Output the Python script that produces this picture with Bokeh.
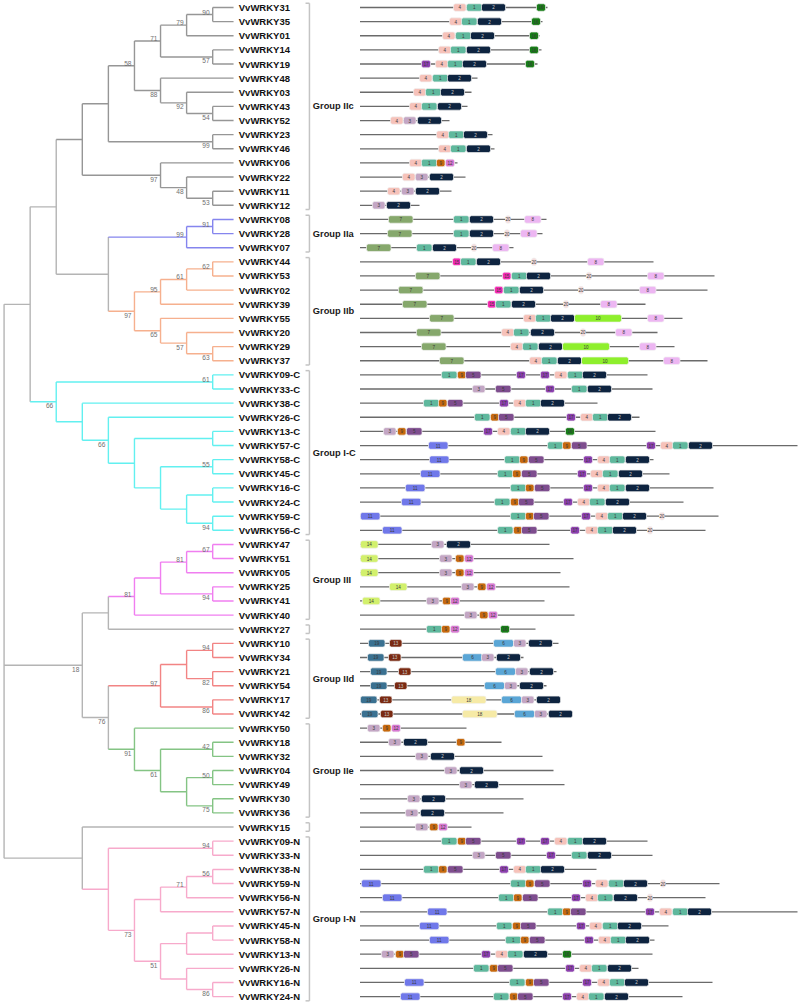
from bokeh.plotting import figure
from bokeh.models import Range1d, ColumnDataSource, Rect
from bokeh.core.properties import value
from bokeh.embed import file_html
from bokeh.resources import INLINE

# ---------------- tree (topology + bootstrap values) ----------------
IIC = "((((((VvWRKY31,VvWRKY35)90,VvWRKY01)79,(VvWRKY14,VvWRKY19)57)71,(VvWRKY48,(VvWRKY03,(VvWRKY43,VvWRKY52)54)92)88)58,(VvWRKY23,VvWRKY46)99),(VvWRKY06,(VvWRKY22,(VvWRKY11,VvWRKY12)53)48)97)"
IIA = "((VvWRKY08,VvWRKY28)91,VvWRKY07)99"
IIB = "((((VvWRKY44,VvWRKY53)62,VvWRKY02)61,VvWRKY39)95,(VvWRKY55,(VvWRKY20,(VvWRKY29,VvWRKY37)63)57)65)97"
IC = "((VvWRKY09-C,VvWRKY33-C)61,(VvWRKY38-C,(VvWRKY26-C,((VvWRKY13-C,VvWRKY57-C),((VvWRKY58-C,VvWRKY45-C)55,((VvWRKY16-C,VvWRKY24-C),(VvWRKY59-C,VvWRKY56-C)94))))66))66"
III = "((((VvWRKY47,VvWRKY51)67,VvWRKY05)81,(VvWRKY25,VvWRKY41)94),VvWRKY40)81"
IID = "(((VvWRKY10,VvWRKY34)94,(VvWRKY21,VvWRKY54)82),(VvWRKY17,VvWRKY42)86)97"
IIE = "(VvWRKY50,((VvWRKY18,VvWRKY32)42,((VvWRKY04,VvWRKY49)50,(VvWRKY30,VvWRKY36)75))61)91"
IN = "((VvWRKY09-N,VvWRKY33-N)94,((((VvWRKY38-N,VvWRKY59-N)56,VvWRKY56-N)71,VvWRKY57-N),(((VvWRKY45-N,VvWRKY58-N),VvWRKY13-N),(VvWRKY26-N,(VvWRKY16-N,VvWRKY24-N)86))51)73)"
NEWICK = ("(((" + IIC + ",(" + IIA + "," + IIB + "))," + IC + "),((" + III + ",VvWRKY27),(" +
          IID + "," + IIE + ")76)18,(VvWRKY15," + IN + "));")

# ---------------- groups ----------------
GROUP_NAMES = ["Group IIc", "Group IIa", "Group IIb", "Group I-C", "Group III", "",
               "Group IId", "Group IIe", "", "Group I-N"]
GROUP_SIZES = [15, 3, 8, 12, 6, 1, 6, 7, 1, 12]
GROUP_COLORS = ["#969696", "#8585ee", "#f6b08e", "#62f0f0", "#f07ef0", "#b4b4b4",
                "#f28484", "#84c484", "#b4b4b4", "#f7aacb"]
BACKBONE = "#b4b4b4"

# ---------------- proteins & motifs (lengths / positions in aa) ----------------
GENES = ["VvWRKY31", "VvWRKY35", "VvWRKY01", "VvWRKY14", "VvWRKY19", "VvWRKY48", "VvWRKY03",
         "VvWRKY43", "VvWRKY52", "VvWRKY23", "VvWRKY46", "VvWRKY06", "VvWRKY22", "VvWRKY11",
         "VvWRKY12", "VvWRKY08", "VvWRKY28", "VvWRKY07", "VvWRKY44", "VvWRKY53", "VvWRKY02",
         "VvWRKY39", "VvWRKY55", "VvWRKY20", "VvWRKY29", "VvWRKY37", "VvWRKY09-C", "VvWRKY33-C",
         "VvWRKY38-C", "VvWRKY26-C", "VvWRKY13-C", "VvWRKY57-C", "VvWRKY58-C", "VvWRKY45-C",
         "VvWRKY16-C", "VvWRKY24-C", "VvWRKY59-C", "VvWRKY56-C", "VvWRKY47", "VvWRKY51",
         "VvWRKY05", "VvWRKY25", "VvWRKY41", "VvWRKY40", "VvWRKY27", "VvWRKY10", "VvWRKY34",
         "VvWRKY21", "VvWRKY54", "VvWRKY17", "VvWRKY42", "VvWRKY50", "VvWRKY18", "VvWRKY32",
         "VvWRKY04", "VvWRKY49", "VvWRKY30", "VvWRKY36", "VvWRKY15", "VvWRKY09-N", "VvWRKY33-N",
         "VvWRKY38-N", "VvWRKY59-N", "VvWRKY56-N", "VvWRKY57-N", "VvWRKY45-N", "VvWRKY58-N",
         "VvWRKY13-N", "VvWRKY26-N", "VvWRKY16-N", "VvWRKY24-N"]

LENGTHS = [375, 365, 359, 363, 355, 235, 223, 215, 179, 265, 269, 195, 211, 183, 119,
           373, 365, 307,
           587, 709, 695, 571, 645, 595, 629, 695,
           575, 585, 475, 559, 591, 875, 587, 619, 707, 647, 717, 691,
           379, 427, 401, 419, 369, 429,
           351,
           397, 327, 393, 373, 401, 425,
           213, 283, 365, 387, 409, 327, 287,
           223,
           575, 585, 473, 719, 691, 875, 617, 589, 585, 557, 705, 645]

MOTIF_IDS = [
    [4, 1, 2, 16], [4, 1, 2, 16], [4, 1, 2, 16], [4, 1, 2, 16], [17, 4, 1, 2, 16],
    [4, 1, 2], [4, 1, 2], [4, 1, 2], [4, 3, 2], [4, 1, 2], [4, 1, 2], [4, 1, 9, 12],
    [4, 3, 2], [4, 3, 2], [3, 2],
    [7, 1, 2, 20, 8], [7, 1, 2, 20, 8], [7, 1, 2, 20, 8],
    [15, 1, 2, 20, 8], [7, 15, 1, 2, 20, 8], [7, 15, 1, 2, 20, 8], [7, 15, 1, 2, 20, 8],
    [7, 4, 1, 2, 10, 8], [7, 4, 1, 2, 20, 8], [7, 4, 1, 2, 10, 8], [7, 4, 1, 2, 10, 8],
    [1, 9, 5, 17, 17, 4, 1, 2], [3, 5, 17, 1, 2], [1, 9, 5, 17, 4, 1, 2], [1, 9, 5, 17, 4, 1, 2],
    [3, 9, 5, 17, 4, 1, 2, 16], [11, 1, 9, 5, 17, 4, 1, 2], [11, 1, 9, 5, 17, 4, 1, 2],
    [11, 1, 9, 5, 17, 4, 1, 2], [11, 1, 9, 5, 17, 4, 1, 2], [11, 1, 9, 5, 17, 4, 1, 2],
    [11, 1, 9, 5, 17, 4, 1, 2, 20], [11, 1, 9, 5, 17, 4, 1, 2, 20],
    [14, 3, 2], [14, 3, 9, 12], [14, 3, 9, 12], [14, 3, 9, 12], [14, 3, 9, 12], [3, 9, 12],
    [1, 9, 12, 16],
    [19, 13, 6, 3, 2], [19, 13, 6, 3, 2], [19, 13, 6, 3, 2], [19, 13, 6, 3, 2],
    [19, 13, 18, 6, 3, 2], [19, 13, 18, 6, 3, 2],
    [3, 9, 12], [3, 2, 9], [3, 2], [3, 2], [3, 2], [3, 2], [3, 2],
    [3, 9, 12],
    [1, 9, 5, 17, 17, 4, 1, 2], [3, 5, 17, 1, 2], [1, 9, 5, 17, 4, 1, 2],
    [11, 1, 9, 5, 17, 4, 1, 2, 20], [11, 1, 9, 5, 17, 4, 1, 2, 20], [11, 1, 9, 5, 17, 4, 1, 2],
    [11, 1, 9, 5, 17, 4, 1, 2], [11, 1, 9, 5, 17, 4, 1, 2], [3, 9, 5, 17, 4, 1, 2, 16],
    [1, 9, 5, 17, 4, 1, 2], [11, 1, 9, 5, 17, 4, 1, 2], [11, 1, 9, 5, 17, 4, 1, 2],
]

MOTIF_STARTS = [
    [187, 213, 243, 353], [179, 203, 235, 343], [165, 191, 221, 339], [157, 181, 213, 339],
    [123, 151, 175, 205, 331],
    [119, 145, 175], [107, 131, 161], [99, 123, 155], [61, 87, 115], [153, 177, 207],
    [157, 181, 213], [99, 123, 153, 171], [85, 111, 139], [55, 83, 111], [25, 53],
    [57, 187, 219, 291, 329], [55, 187, 219, 289, 321], [13, 113, 145, 223, 265],
    [185, 201, 233, 343, 455], [111, 285, 303, 333, 453, 575], [77, 269, 287, 319, 437, 559],
    [85, 255, 271, 303, 407, 481],
    [139, 327, 351, 381, 429, 575], [113, 283, 307, 341, 441, 511],
    [123, 301, 325, 357, 405, 559], [159, 339, 363, 395, 443, 607],
    [163, 195, 211, 313, 361, 389, 415, 445], [225, 271, 371, 423, 455],
    [127, 157, 175, 279, 307, 331, 361], [229, 261, 277, 413, 441, 465, 495],
    [47, 75, 93, 247, 275, 301, 331, 411], [137, 375, 405, 423, 573, 601, 625, 657],
    [139, 289, 319, 337, 447, 475, 499, 531], [121, 275, 305, 323, 435, 461, 485, 517],
    [91, 301, 331, 349, 447, 475, 499, 531], [83, 269, 301, 317, 407, 435, 459, 491],
    [1, 301, 331, 347, 443, 471, 495, 525, 599], [45, 275, 307, 323, 421, 451, 475, 505, 575],
    [1, 143, 173], [1, 159, 191, 209], [1, 159, 191, 209], [59, 203, 235, 253],
    [5, 133, 165, 181], [209, 239, 257],
    [133, 163, 181, 281],
    [17, 59, 267, 307, 337], [15, 57, 205, 243, 273], [21, 77, 271, 311, 339],
    [21, 69, 249, 289, 319], [1, 39, 183, 283, 323, 353], [3, 41, 205, 309, 349, 377],
    [15, 45, 63], [57, 87, 193], [111, 141], [169, 199], [199, 229], [95, 123], [91, 121],
    [111, 139, 157],
    [163, 195, 211, 313, 361, 389, 415, 445], [225, 271, 373, 423, 455],
    [127, 157, 175, 279, 307, 331, 361],
    [3, 301, 331, 349, 445, 471, 497, 527, 601], [45, 277, 307, 325, 423, 451, 475, 507, 575],
    [135, 375, 405, 421, 571, 599, 625, 655], [119, 273, 305, 321, 433, 459, 485, 515],
    [139, 291, 321, 339, 449, 477, 501, 531], [43, 71, 87, 243, 271, 295, 327, 405],
    [227, 259, 275, 411, 439, 463, 495], [89, 299, 331, 347, 445, 475, 499, 529],
    [81, 267, 299, 315, 405, 433, 457, 489],
]

MOTIF_LEN = {1: 31, 2: 48, 3: 25, 4: 25, 5: 31, 6: 40, 7: 49, 8: 33, 9: 17, 10: 94,
             11: 39, 12: 18, 13: 25, 14: 35, 15: 17, 16: 18, 17: 18, 18: 69, 19: 33, 20: 10}
MOTIF_COLOR = {1: "#5fb89d", 2: "#0e2440", 3: "#c3a6c4", 4: "#f6c2ba", 5: "#7e4d8e",
               6: "#5aa6d6", 7: "#86a86c", 8: "#edb6f2", 9: "#c7690d", 10: "#8eef2c",
               11: "#7078ea", 12: "#d878d2", 13: "#7a2a12", 14: "#d2f06c", 15: "#f22ab4",
               16: "#177d17", 17: "#8c3fae", 18: "#f6eaa6", 19: "#3a7191", 20: "#f5dede"}


# ---------------- parse tree ----------------
def parse(s):
    pos = 0

    def read_label():
        nonlocal pos
        st = pos
        while pos < len(s) and s[pos] not in ",();":
            pos += 1
        return s[st:pos]

    def node():
        nonlocal pos
        if s[pos] == "(":
            pos += 1
            kids = [node()]
            while s[pos] == ",":
                pos += 1
                kids.append(node())
            pos += 1
            return {"children": kids, "label": read_label()}
        return {"children": [], "name": read_label()}

    return node()


root = parse(NEWICK)

group_of = {}
k = 0
for gi, n in enumerate(GROUP_SIZES):
    for j in range(n):
        group_of[GENES[k]] = gi
        k += 1

leaf_order = []
TIP = 0.2  # gap between leaf tip and label (in branch-step units)


def layout(nd):
    if not nd["children"]:
        nd["y"] = GENES.index(nd["name"])
        leaf_order.append(nd["name"])
        nd["h"] = 0
        nd["groups"] = {group_of[nd["name"]]}
        return
    for c in nd["children"]:
        layout(c)
    nd["h"] = 1 + max(c["h"] for c in nd["children"])
    nd["y"] = (nd["children"][0]["y"] + nd["children"][-1]["y"]) / 2
    nd["groups"] = set().union(*[c["groups"] for c in nd["children"]])


layout(root)
assert leaf_order == GENES


def color_of(nd):
    if len(nd["groups"]) == 1:
        return GROUP_COLORS[next(iter(nd["groups"]))]
    return BACKBONE


seg = dict(x0=[], y0=[], x1=[], y1=[], c=[])
boot = dict(x=[], y=[], t=[])
boot_below = dict(x=[], y=[], t=[])


def xh(nd):
    return nd["h"] if nd["children"] else TIP


def walk(nd):
    if not nd["children"]:
        return
    col = color_of(nd)
    seg["x0"].append(nd["h"]); seg["x1"].append(nd["h"])
    seg["y0"].append(nd["children"][0]["y"]); seg["y1"].append(nd["children"][-1]["y"])
    seg["c"].append(col)
    for i, c in enumerate(nd["children"]):
        seg["x0"].append(nd["h"]); seg["x1"].append(xh(c))
        seg["y0"].append(c["y"]); seg["y1"].append(c["y"])
        seg["c"].append(color_of(c))
        if c["children"] and c["label"]:
            tgt = boot if i == 0 else boot_below
            tgt["x"].append(c["h"]); tgt["y"].append(c["y"]); tgt["t"].append(c["label"])
        walk(c)


walk(root)

# ---------------- figure ----------------
p = figure(width=800, height=1005, x_range=Range1d(9.137, -21.54), y_range=Range1d(70.63, -0.495),
           output_backend="svg", toolbar_location=None, min_border=0,
           x_axis_location=None, y_axis_location=None)
p.extra_x_ranges = {"motif": Range1d(-719, 881)}
p.grid.visible = False
p.outline_line_color = None
p.background_fill_color = "white"

p.segment(x0="x0", y0="y0", x1="x1", y1="y1", line_color="c", line_width=1.4,
          source=ColumnDataSource(seg))

FONT = value("Liberation Sans")
p.text(x="x", y="y", text="t", source=ColumnDataSource(boot), text_font=FONT,
       text_font_size="6.6px", text_color="#707070", text_align="right",
       text_baseline="bottom", x_offset=-3, y_offset=0)
p.text(x="x", y="y", text="t", source=ColumnDataSource(boot_below), text_font=FONT,
       text_font_size="6.6px", text_color="#707070", text_align="right",
       text_baseline="top", x_offset=-3, y_offset=1.5)

# leaf names
p.text(x=[0] * len(GENES), y=list(range(len(GENES))), text=GENES, text_font=FONT,
       text_font_size="9.5px", text_font_style="bold", text_color="#111111",
       text_align="left", text_baseline="middle")

# group brackets
BR_X, BR_TICK, BR_PAD = -2.71, -2.56, 0.3
bx0, by0, bx1, by1 = [], [], [], []
gl_x, gl_y, gl_t = [], [], []
k = 0
for name, n in zip(GROUP_NAMES, GROUP_SIZES):
    top, bot = k - BR_PAD, k + n - 1 + BR_PAD
    bx0 += [BR_X, BR_TICK, BR_TICK]; bx1 += [BR_X, BR_X, BR_X]
    by0 += [top, top, bot]; by1 += [bot, top, bot]
    if name:
        gl_x.append(-2.84); gl_y.append(k + (n - 1) / 2); gl_t.append(name)
    k += n
p.segment(x0=bx0, y0=by0, x1=bx1, y1=by1, line_color="#c4c4c4", line_width=1.5)
p.text(x=gl_x, y=gl_y, text=gl_t, text_font=FONT, text_font_size="9.3px",
       text_font_style="bold", text_color="#1a1a1a", text_align="left", text_baseline="middle")

# protein backbones
p.segment(x0=[0] * len(GENES), y0=list(range(len(GENES))), x1=LENGTHS,
          y1=list(range(len(GENES))), x_range_name="motif", line_color="#6a6a6a", line_width=1.3)

# motif boxes
mx, my, mw, mc, mt, mtc = [], [], [], [], [], []
for i, (ids, starts) in enumerate(zip(MOTIF_IDS, MOTIF_STARTS)):
    for m, s0 in zip(ids, starts):
        mx.append(s0 + MOTIF_LEN[m] / 2); my.append(i); mw.append(MOTIF_LEN[m])
        mc.append(MOTIF_COLOR[m]); mt.append(str(m))
        mtc.append("#c8c8c8" if m in (2, 13) else "#3a3a3a")
msrc = ColumnDataSource(dict(x=mx, y=my, w=mw, c=mc, t=mt, tc=mtc))
rkw = {}
if "border_radius" in Rect.properties():
    rkw["border_radius"] = 2
p.rect(x="x", y="y", width="w", height=7.5, height_units="screen", source=msrc,
       x_range_name="motif", fill_color="c", line_color="#f0f0f0", line_width=0.7, **rkw)
p.text(x="x", y="y", text="t", source=msrc, x_range_name="motif", text_font=FONT,
       text_font_size="4.6px", text_color="tc", text_align="center", text_baseline="middle")

open("out.html", "w").write(file_html(p, INLINE))
